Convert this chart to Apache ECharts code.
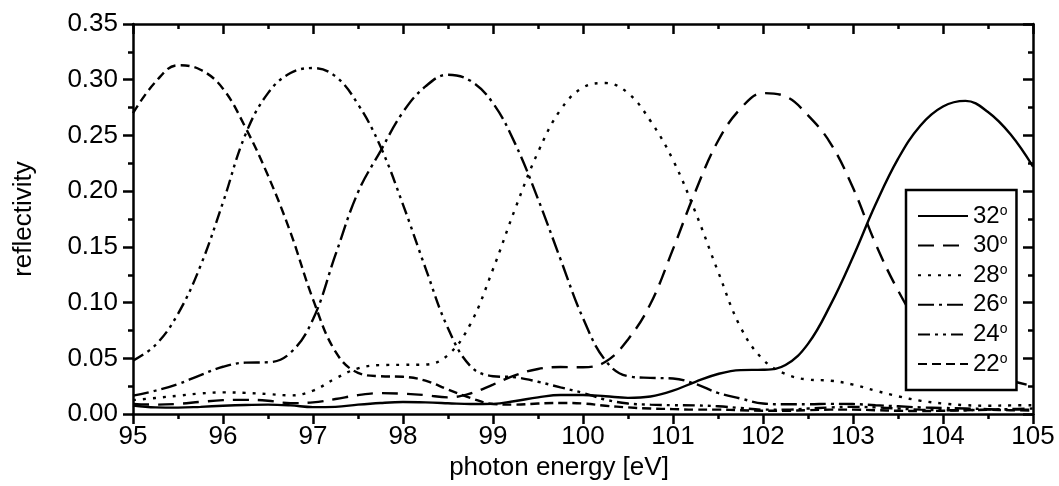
<!DOCTYPE html>
<html>
<head>
<meta charset="utf-8">
<script src="https://cdn.jsdelivr.net/npm/echarts@6/dist/echarts.min.js"></script>
<style>
  html, body { margin: 0; padding: 0; background: #fff; }
  #chart { width: 1059px; height: 486px; }
</style>
</head>
<body>
<div id="chart"></div>
<script>
// photon energy grid, 0.25 eV steps
const energy = [];
for (let i = 0; i <= 40; i++) energy.push(95 + i * 0.25);

const xTicks = [95, 96, 97, 98, 99, 100, 101, 102, 103, 104, 105];
const yTicks = [0, 0.05, 0.10, 0.15, 0.20, 0.25, 0.30, 0.35];

const r32 = [0.0077, 0.006, 0.0058, 0.0065, 0.0075, 0.0082, 0.0085, 0.0078, 0.0063, 0.0065,
  0.0085, 0.010, 0.0108, 0.0105, 0.0098, 0.009, 0.0092, 0.0118, 0.015, 0.0172,
  0.0172, 0.016, 0.0146, 0.0158, 0.021, 0.029, 0.036, 0.0395, 0.0398, 0.044,
  0.063, 0.098, 0.141, 0.188, 0.229, 0.259, 0.276, 0.281, 0.271, 0.251, 0.222];
const r30 = [0.0092, 0.0085, 0.0092, 0.011, 0.0125, 0.0128, 0.012, 0.0098, 0.0105, 0.0135,
  0.017, 0.0188, 0.0183, 0.017, 0.015, 0.0185, 0.0265, 0.035, 0.0405, 0.0422,
  0.042, 0.047, 0.067, 0.099, 0.148, 0.200, 0.245, 0.274, 0.288, 0.285,
  0.268, 0.243, 0.203, 0.153, 0.111, 0.078, 0.055, 0.043, 0.035, 0.030, 0.025];
const r28 = [0.0125, 0.0145, 0.0165, 0.0185, 0.0195, 0.019, 0.018, 0.0168, 0.021, 0.032,
  0.041, 0.044, 0.0442, 0.0445, 0.053, 0.081, 0.130, 0.185, 0.235, 0.273,
  0.293, 0.297, 0.288, 0.263, 0.228, 0.181, 0.128, 0.078, 0.049, 0.036,
  0.031, 0.030, 0.0265, 0.021, 0.016, 0.012, 0.0095, 0.008, 0.0075, 0.0078, 0.008];
const r26 = [0.0166, 0.021, 0.027, 0.035, 0.0425, 0.0462, 0.0465, 0.055, 0.085, 0.143,
  0.199, 0.236, 0.271, 0.294, 0.3045, 0.299, 0.279, 0.242, 0.193, 0.139,
  0.086, 0.048, 0.034, 0.0325, 0.032, 0.027, 0.019, 0.014, 0.0095, 0.0088,
  0.0088, 0.0092, 0.009, 0.008, 0.007, 0.006, 0.0055, 0.005, 0.0045, 0.004, 0.004];
const r24 = [0.048, 0.062, 0.090, 0.133, 0.190, 0.251, 0.288, 0.306, 0.3105, 0.303,
  0.278, 0.240, 0.188, 0.131, 0.077, 0.043, 0.034, 0.033, 0.029, 0.024,
  0.019, 0.013, 0.0095, 0.0085, 0.008, 0.0078, 0.007, 0.0055, 0.004, 0.004,
  0.005, 0.006, 0.0065, 0.006, 0.005, 0.004, 0.0035, 0.0035, 0.004, 0.0045, 0.005];
const r22 = [0.270, 0.298, 0.313, 0.309, 0.292, 0.257, 0.214, 0.163, 0.103, 0.056,
  0.037, 0.034, 0.0335, 0.030, 0.022, 0.0145, 0.009, 0.0085, 0.0095, 0.010,
  0.0095, 0.0075, 0.006, 0.005, 0.0045, 0.004, 0.004, 0.0035, 0.003, 0.003,
  0.0035, 0.004, 0.004, 0.0035, 0.003, 0.0028, 0.003, 0.0035, 0.0038, 0.0035, 0.003];

const angles = ['32', '30', '28', '26', '24', '22'];
const curves = [r32, r30, r28, r26, r24, r22];
const dashes = ['solid', [16, 9], [3, 7], [16, 5, 3, 5], [12, 5, 3, 5, 3, 5], [9, 5]];

const font = 'Liberation Sans, Arial, sans-serif';

function pairs(vals) {
  return energy.map((e, i) => [e, vals[i]]);
}

const series = angles.map((a, k) => ({
  name: a,
  type: 'line',
  data: pairs(curves[k]),
  smooth: 0.4,
  symbol: 'none',
  xAxisIndex: 0,
  yAxisIndex: 0,
  lineStyle: { color: '#000', width: 2.4, type: dashes[k] },
  itemStyle: { color: '#000' }
}));

const axisBase = {
  axisLine: { show: true, onZero: false, lineStyle: { color: '#000', width: 2.5 } },
  splitLine: { show: false },
  axisTick: { show: true, length: 10, lineStyle: { color: '#000', width: 2.5 } },
  minorTick: { show: true, splitNumber: 2, length: 5, lineStyle: { color: '#000', width: 2.5 } }
};

const option = {
  backgroundColor: '#fff',
  animation: false,
  grid: { left: 133, top: 24, right: 26, bottom: 69 },
  legend: {
    orient: 'vertical',
    left: 906,
    top: 190,
    padding: [14, 9, 14, 11],
    itemWidth: 50,
    itemHeight: 18,
    itemGap: 5.6,
    backgroundColor: '#fff',
    borderColor: '#000',
    borderWidth: 2.5,
    borderRadius: 0,
    itemStyle: { opacity: 0 },
    formatter: n => '{n|' + n + '}{s|o}',
    textStyle: {
      color: '#000',
      fontFamily: font,
      fontSize: 24,
      rich: {
        n: { fontSize: 24, lineHeight: 24, fontFamily: font, color: '#000' },
        s: { fontSize: 14, lineHeight: 12, verticalAlign: 'top', fontFamily: font, color: '#000' }
      }
    },
    data: angles
  },
  xAxis: [
    Object.assign({}, axisBase, {
      type: 'value', min: 95, max: 105, interval: 1, position: 'bottom',
      name: 'photon energy [eV]', nameLocation: 'middle', nameGap: 39,
      nameTextStyle: { fontSize: 26, fontFamily: font, color: '#000', padding: [0, 48, 0, 0] },
      axisLabel: { fontSize: 26, fontFamily: font, color: '#000', margin: 10 }
    }),
    Object.assign({}, axisBase, {
      type: 'value', min: 95, max: 105, interval: 1, position: 'top',
      axisLabel: { show: false },
      axisTick: Object.assign({}, axisBase.axisTick, { inside: true })
    })
  ],
  yAxis: [
    Object.assign({}, axisBase, {
      type: 'value', min: 0, max: 0.35, interval: 0.05, position: 'left',
      name: 'reflectivity', nameLocation: 'middle', nameGap: 96,
      nameTextStyle: { fontSize: 26, fontFamily: font, color: '#000' },
      axisLabel: { fontSize: 26, fontFamily: font, color: '#000', margin: 15,
        formatter: v => v.toFixed(2) }
    }),
    Object.assign({}, axisBase, {
      type: 'value', min: 0, max: 0.35, interval: 0.05, position: 'right',
      axisLabel: { show: false },
      axisTick: Object.assign({}, axisBase.axisTick, { inside: true })
    })
  ],
  series: series
};

const myChart = echarts.init(document.getElementById('chart'));
myChart.setOption(option);
window.addEventListener('resize', function () {
  myChart.resize();
});
</script>
</body>
</html>
